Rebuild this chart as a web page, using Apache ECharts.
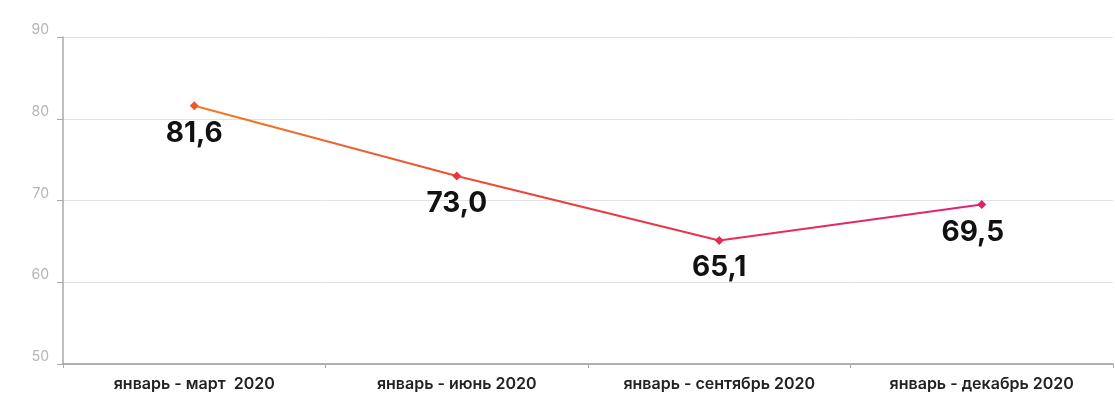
<!DOCTYPE html>
<html><head><meta charset="utf-8">
<script src="https://cdn.jsdelivr.net/npm/echarts@6/dist/echarts.min.js"></script>
<style>html,body{margin:0;padding:0;background:#fff}#c{width:1115px;height:401px}</style>
</head><body><div id="c"></div>
<script>
const categories = ['январь - март  2020', 'январь - июнь 2020', 'январь - сентябрь 2020', 'январь - декабрь 2020'];
const values = [81.6, 73.0, 65.1, 69.5];
const labelTexts = ['81,6', '73,0', '65,1', '69,5'];
const yTicks = [50, 60, 70, 80, 90];

const chart = echarts.init(document.getElementById('c'));
const pointColors = ['#ef5a2a', '#e9363c', '#e42a55', '#e5206a'];
chart.setOption({
  animation: false,
  backgroundColor: '#fff',
  grid: { left: 63, right: 2, top: 37, bottom: 37 },
  xAxis: {
    type: 'category',
    data: categories,
    boundaryGap: true,
    axisLine: { lineStyle: { color: '#9a9a9a', width: 1.5 } },
    axisTick: { show: true, length: 4, lineStyle: { color: '#aaa' } },
    axisLabel: { color: '#222', fontSize: 16, fontWeight: 600, fontFamily: 'Inter', margin: 12 }
  },
  yAxis: {
    type: 'value',
    min: yTicks[0], max: yTicks[yTicks.length - 1], interval: 10,
    axisLine: { show: true, lineStyle: { color: '#a8a8a8', width: 1.5 } },
    axisTick: { show: true, length: 6, lineStyle: { color: '#aaa' } },
    axisLabel: { color: '#b5b5b5', fontSize: 14, fontFamily: 'Inter', margin: 14, verticalAlign: 'bottom' },
    splitLine: { show: true, lineStyle: { color: '#e2e2e2', width: 1 } }
  },
  series: [{
    type: 'line',
    data: values.map((v, i) => ({
      value: v,
      itemStyle: { color: pointColors[i] },
      label: { offset: i === 3 ? [-9, 0] : [0, 0] }
    })),
    symbol: 'diamond',
    symbolSize: 9,
    lineStyle: {
      width: 2,
      color: new echarts.graphic.LinearGradient(0, 0, 1, 0, [
        { offset: 0, color: '#f07d22' },
        { offset: 0.5, color: '#ea3a3e' },
        { offset: 1, color: '#e31f78' }
      ])
    },
    label: {
      show: true,
      position: 'bottom',
      distance: 9,
      color: '#111',
      fontSize: 28,
      fontWeight: 700,
      fontFamily: 'Inter',
      formatter: p => labelTexts[p.dataIndex]
    }
  }]
});
</script></body></html>
